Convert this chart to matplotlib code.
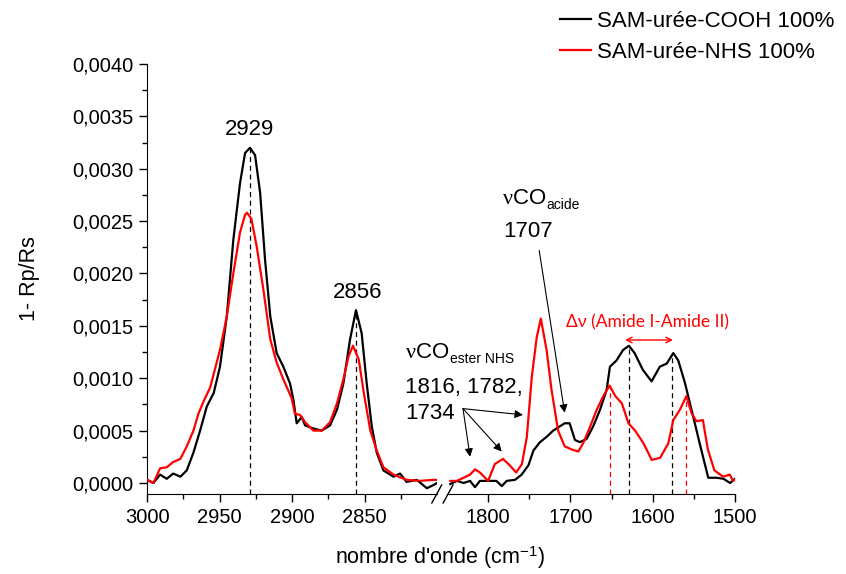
"""
Spectres IR (PM-IRRAS) : SAM-urée-COOH vs SAM-urée-NHS, axe x coupé.
"""

import matplotlib

matplotlib.use("Agg")
import matplotlib.pyplot as plt
import matplotlib.ticker as mticker

plt.rcParams["font.family"] = ["Liberation Sans", "DejaVu Sans"]
plt.rcParams["mathtext.fontset"] = "custom"
plt.rcParams["mathtext.rm"] = "Liberation Sans"
plt.rcParams["mathtext.it"] = "Liberation Serif"
plt.rcParams["mathtext.bf"] = "Liberation Sans:bold"

# -----------------------------------------------------------------------
# Data
# -----------------------------------------------------------------------

# CH stretching region (3000 - 2800 cm-1)
wn_ch_cooh = [3000, 2995.6, 2991, 2986.4, 2982, 2977, 2972.6, 2968, 2963.4, 2958.8,
              2954, 2949.7, 2945, 2940.5, 2935.9, 2932.4, 2929, 2925.5, 2922, 2918.6,
              2915, 2910.6, 2906, 2901.4, 2899, 2896.8, 2893.3, 2891, 2885.3, 2879.5,
              2873.8, 2869, 2864.6, 2860, 2855.9, 2852, 2848.5, 2845, 2841.6, 2837,
              2830, 2825.5, 2821, 2814, 2807, 2802.5, 2800]
ab_ch_cooh = [0.00003, 0.0, 0.00008, 0.00004, 0.00009, 0.00006, 0.00012, 0.00029, 0.0005, 0.00073,
              0.00086, 0.00111, 0.00159, 0.00232, 0.00286, 0.00315, 0.0032, 0.00313, 0.00277, 0.00213,
              0.00159, 0.00124, 0.00111, 0.00095, 0.00079, 0.00057, 0.00063, 0.00055, 0.00052, 0.0005,
              0.00055, 0.0007, 0.00095, 0.00137, 0.00165, 0.00143, 0.00095, 0.00054, 0.00029, 0.00012,
              0.00006, 0.00009, 0.00001, 0.00003, -0.00005, -0.00002, 0.0]

wn_ch_nhs = [3000, 2995.6, 2991, 2986.4, 2982, 2977, 2972.6, 2968, 2964.6, 2961,
             2956.5, 2949.7, 2945, 2940.5, 2935.9, 2932.4, 2931, 2928, 2924.4, 2919.8,
             2915, 2910.6, 2906, 2900.3, 2898, 2894.4, 2891, 2885.3, 2879.5, 2873.8,
             2869, 2864.6, 2861, 2858, 2854, 2850.5, 2846, 2841.6, 2837, 2830,
             2821, 2812, 2802.5, 2800]
ab_ch_nhs = [0.00003, 0.0, 0.00014, 0.00015, 0.0002, 0.00023, 0.00035, 0.0005, 0.00066, 0.00078,
             0.00091, 0.00127, 0.00159, 0.002, 0.00239, 0.00256, 0.00258, 0.00252, 0.00226, 0.00185,
             0.00137, 0.00115, 0.00099, 0.00081, 0.00066, 0.00065, 0.00058, 0.0005, 0.0005, 0.00058,
             0.00076, 0.00099, 0.00121, 0.00131, 0.00118, 0.00086, 0.0005, 0.00031, 0.00015, 0.00008,
             0.00003, 0.00002, 0.00003, 0.00003]

# Carbonyl / amide region (1850 - 1500 cm-1)
wn_co_cooh = [1846, 1838, 1830, 1822, 1816, 1810, 1800, 1790, 1783.5, 1777.5,
              1767.4, 1759.3, 1751, 1745, 1737, 1729, 1721, 1713, 1707, 1701,
              1694.5, 1688.5, 1680.4, 1672.4, 1664, 1656, 1652, 1644, 1636, 1629,
              1622, 1612, 1601.4, 1591.4, 1583, 1575, 1569, 1561, 1551, 1543,
              1532.5, 1522.4, 1514, 1506, 1500]
ab_co_cooh = [-0.00001, 0.00002, 0.0, 0.00002, -0.00004, 0.00002, 0.00002, 0.00002, -0.00003, 0.00002,
              0.00003, 0.00008, 0.00017, 0.00031, 0.00039, 0.00044, 0.0005, 0.00054, 0.00057, 0.00057,
              0.00041, 0.00039, 0.00042, 0.00054, 0.0007, 0.00089, 0.00111, 0.00117, 0.00127, 0.00131,
              0.00124, 0.00108, 0.00097, 0.00111, 0.00114, 0.00124, 0.00117, 0.00096, 0.00064, 0.00038,
              0.00005, 0.00005, 0.00004, 0.0, 0.00004]

wn_co_nhs = [1846, 1838, 1830, 1822, 1816, 1810, 1800, 1792, 1782, 1774,
             1766, 1759, 1753, 1747, 1741, 1736, 1729, 1723, 1715, 1707,
             1698.5, 1690.5, 1684.5, 1676, 1668, 1660, 1652.5, 1645.5, 1637.5, 1629.5,
             1621.4, 1611.3, 1601.2, 1591, 1581, 1575, 1567, 1559, 1553, 1547,
             1539, 1533, 1525, 1514.5, 1506.4, 1502.4, 1500]
ab_co_nhs = [0.00002, 0.00002, 0.00005, 0.00008, 0.00013, 0.0001, 0.00002, 0.00018, 0.00023, 0.00017,
             0.0001, 0.00018, 0.00044, 0.00101, 0.00139, 0.00157, 0.00127, 0.00089, 0.0005, 0.00035,
             0.00032, 0.0003, 0.00038, 0.00054, 0.0007, 0.00083, 0.00093, 0.00083, 0.00076, 0.00057,
             0.0005, 0.00038, 0.00022, 0.00024, 0.00038, 0.0006, 0.0007, 0.00083, 0.00067, 0.00059,
             0.0006, 0.00032, 0.00012, 0.00006, 0.00008, 0.00002, 0.00003]

# Peak markers (position, height)
ch_peaks = [2929, 2856]
ch_peak_heights = [0.0032, 0.00165]
amide_peaks_cooh = [1629, 1576]
amide_heights_cooh = [0.00131, 0.00124]
amide_peaks_nhs = [1652, 1559]
amide_heights_nhs = [0.00093, 0.00083]

labels = ["SAM-urée-COOH 100%", "SAM-urée-NHS 100%"]

# -----------------------------------------------------------------------
# Figure with broken x axis
# -----------------------------------------------------------------------

RED = "#ff0000"
YLO, YHI = -0.000105, 0.004

fig = plt.figure(figsize=(8.46, 5.74), dpi=100)
ax1 = fig.add_axes([0.1738, 0.1394, 0.3428, 0.7491])
ax2 = fig.add_axes([0.5284, 0.1394, 0.3404, 0.7491])
ax1.set_zorder(2)  # texts of ax1 reach into ax2
ax1.patch.set_visible(False)

l1, = ax1.plot(wn_ch_cooh, ab_ch_cooh, color="black", lw=1.6, zorder=3)
l2, = ax1.plot(wn_ch_nhs, ab_ch_nhs, color=RED, lw=1.6, zorder=4)
ax2.plot(wn_co_cooh, ab_co_cooh, color="black", lw=1.6, zorder=3)
ax2.plot(wn_co_nhs, ab_co_nhs, color=RED, lw=1.6, zorder=4)

dash = (0, (4, 3))
ax1.vlines(ch_peaks, YLO, ch_peak_heights, colors="black", lw=0.9, linestyles=[dash], zorder=2)
ax2.vlines(amide_peaks_cooh, YLO, amide_heights_cooh, colors="black", lw=0.9, linestyles=[dash], zorder=2)
ax2.vlines(amide_peaks_nhs, YLO, amide_heights_nhs, colors=RED, lw=0.9, linestyles=[dash], zorder=2)

for ax in (ax1, ax2):
    ax.set_ylim(YLO, YHI)
    ax.spines["top"].set_visible(False)
    ax.spines["right"].set_visible(False)
    ax.tick_params(which="both", direction="out", labelsize=14.5, width=1)
    ax.tick_params(which="major", length=6, pad=4)
    ax.tick_params(which="minor", length=3.5)

ax1.set_xlim(3000, 2800)
ax1.xaxis.set_major_locator(mticker.FixedLocator([3000, 2950, 2900, 2850]))
ax1.xaxis.set_minor_locator(mticker.FixedLocator([2975, 2925, 2875, 2825]))
ax1.yaxis.set_major_locator(mticker.MultipleLocator(0.0005))
ax1.yaxis.set_minor_locator(mticker.MultipleLocator(0.00025))
ax1.yaxis.set_major_formatter(mticker.FuncFormatter(lambda v, p: f"{v:.4f}".replace(".", ",")))

ax2.set_xlim(1850, 1500)
ax2.xaxis.set_major_locator(mticker.FixedLocator([1800, 1700, 1600, 1500]))
ax2.xaxis.set_minor_locator(mticker.FixedLocator([1750, 1650, 1550]))
ax2.spines["left"].set_visible(False)
ax2.tick_params(axis="y", which="both", left=False, labelleft=False)

# -- break marks "//" --
for x0 in (0.982, 1.021):
    ax1.plot([x0, x0 + 0.034], [-0.021, 0.021], transform=ax1.transAxes,
             color="black", lw=1, clip_on=False)

# -- axis labels --
ax1.set_ylabel("1- Rp/Rs", fontsize=15.5)
ax1.yaxis.set_label_coords(-0.368, 0.5)
fig.text(440 / 846, 1 - 558 / 574, r"nombre d'onde (cm$^{\mathrm{-1}}$)",
         fontsize=15.5, ha="center", va="center")

# -- annotations --
ax1.text(2929, 0.00337, "2929", fontsize=16, ha="center", va="center")
ax1.text(2855, 0.00182, "2856", fontsize=16, ha="center", va="center")


def nu_co(ax, x, y, sub):
    """'νCO' followed by a lowered small subscript."""
    t = ax.text(x, y, r"$\nu$CO", fontsize=16, ha="left", va="center")
    ax.annotate(sub, xy=(1, 0), xycoords=t, xytext=(0.5, -2.5),
                textcoords="offset points", fontsize=10, ha="left", va="bottom")
    return t


nu_co(ax2, 1783.5, 0.00272, "acide")
ax2.text(1782, 0.0024, "1707", fontsize=16, ha="left", va="center")
ax2.annotate("", xy=(1707, 0.00067), xytext=(1738, 0.00222),
             arrowprops=dict(arrowstyle="-|>", color="black", lw=0.8,
                             mutation_scale=12, shrinkA=0, shrinkB=0))

nu_co(ax1, 2822, 0.00125, "ester NHS")
ax1.text(2822, 0.00091, "1816, 1782,", fontsize=16, ha="left", va="center")
ax1.text(2822, 0.00066, "1734", fontsize=16, ha="left", va="center")
for tip in [(1822, 0.00025), (1783.5, 0.0003), (1757.7, 0.00065)]:
    ax2.annotate("", xy=tip, xytext=(1830.6, 0.00071),
                 arrowprops=dict(arrowstyle="-|>", color="black", lw=0.8,
                                 mutation_scale=12, shrinkA=0, shrinkB=0))

ax2.text(1606.4, 0.00153, "Δν (Amide I-Amide II)", color=RED, fontsize=12.5,
         family=["Lato", "Open Sans", "DejaVu Sans"], ha="center", va="center")
ax2.annotate("", xy=(1575.4, 0.001365), xytext=(1633.7, 0.001365),
             arrowprops=dict(arrowstyle="<->", color=RED, lw=1,
                             mutation_scale=10, shrinkA=0, shrinkB=0))

# -- legend --
fig.legend([l1, l2], labels, loc="upper left", bbox_to_anchor=(560 / 846, 1 - 11 / 574),
           frameon=False, fontsize=16, handlelength=1.4, handletextpad=0.25,
           borderpad=0, borderaxespad=0, labelspacing=0.45)

fig.savefig("out.png", dpi=100)
plt.close(fig)
